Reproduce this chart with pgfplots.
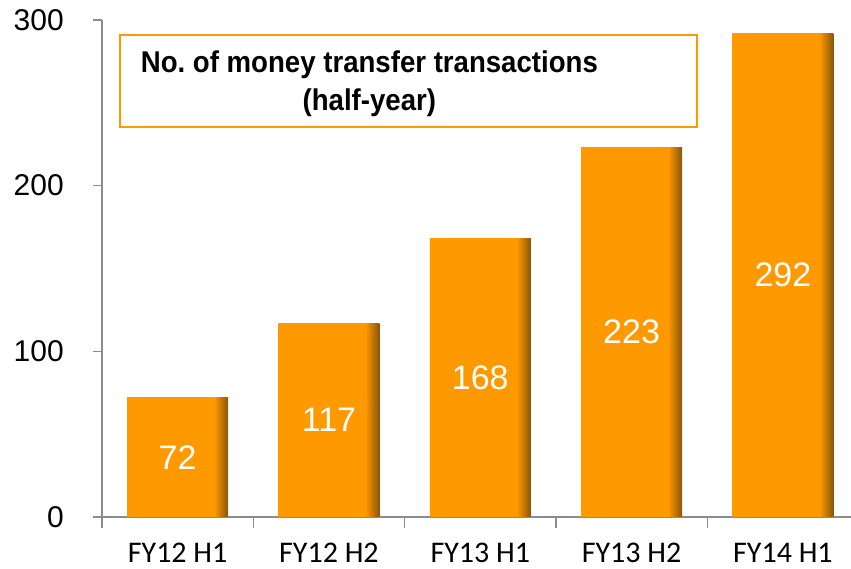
\documentclass[border=0pt]{standalone}
\usepackage{fontspec}
\setmainfont{Liberation Sans}
\newfontfamily\carlito{Carlito}
\usepackage{pgfplots}
\usepackage{pgfplotstable}
\pgfplotsset{compat=1.18}
\definecolor{barorange}{RGB}{255,153,0}
\definecolor{bardark}{RGB}{135,85,10}
\definecolor{axisgray}{RGB}{140,140,140}
% orange face with a dark right edge, like the 3D-ish office bars
\pgfdeclarehorizontalshading{barshade}{100bp}{color(0bp)=(barorange); color(25bp)=(barorange); color(68bp)=(barorange); color(75bp)=(bardark); color(100bp)=(bardark)}

\pgfplotstableread{
x v
0 72
1 117
2 168
3 223
4 292
}\transfers

\begin{document}
\begin{tikzpicture}
\path[use as bounding box] (-102pt,-52pt) rectangle (749pt,517pt);
\begin{axis}[
  scale only axis, width=749pt, height=497pt,
  at={(0,0)}, anchor=south west,
  xmin=-0.5, xmax=4.45, ymin=0, ymax=300,
  axis x line*=bottom, axis y line*=left,
  axis line style={axisgray, line width=1.5pt},
  tick align=outside,
  tick style={axisgray, line width=1.5pt},
  major tick length=9pt, minor tick length=11pt,
  xtick={0,1,2,3,4},
  xticklabels={FY12 H1, FY12 H2, FY13 H1, FY13 H2, FY14 H1},
  minor xtick={-0.5,0.5,1.5,2.5,3.5},
  major x tick style={draw=none},
  ytick={0,100,200,300},
  /pgf/number format/assume math mode=true,
  xticklabel style={font=\carlito\fontsize{30}{36}\selectfont, anchor=north, inner sep=0pt, yshift=-17pt},
  yticklabel style={font=\fontsize{30}{36}\selectfont, anchor=east, inner sep=0pt, xshift=-29pt},
]
\addplot[ybar, bar width=101pt, bar shift=0pt, draw=none, shading=barshade] coordinates {(0,72)};
\addplot[ybar, bar width=101pt, bar shift=0pt, draw=none, shading=barshade] coordinates {(1,117)};
\addplot[ybar, bar width=101pt, bar shift=0pt, draw=none, shading=barshade] coordinates {(2,168)};
\addplot[ybar, bar width=101pt, bar shift=0pt, draw=none, shading=barshade] coordinates {(3,223)};
\addplot[ybar, bar width=101pt, bar shift=0pt, draw=none, shading=barshade] coordinates {(4,292)};
\addplot[draw=none, mark=none, nodes near coords, point meta=explicit,
  nodes near coords style={anchor=center, text=white, font=\fontsize{34}{40}\selectfont}]
  table[x=x, y expr=\thisrow{v}/2, meta=v] {\transfers};
\node[draw=barorange, line width=2pt, fill=white,
  minimum width=577pt, minimum height=92pt, inner sep=0pt]
  at (rel axis cs:0.409,0.877) {};
\node[align=center, font=\bfseries\fontsize{30}{38}\selectfont, xscale=0.92, transform shape, inner sep=0pt]
  at (rel axis cs:0.357,0.871) {No.\ of money transfer transactions\\(half-year)};
\end{axis}
\end{tikzpicture}
\end{document}
